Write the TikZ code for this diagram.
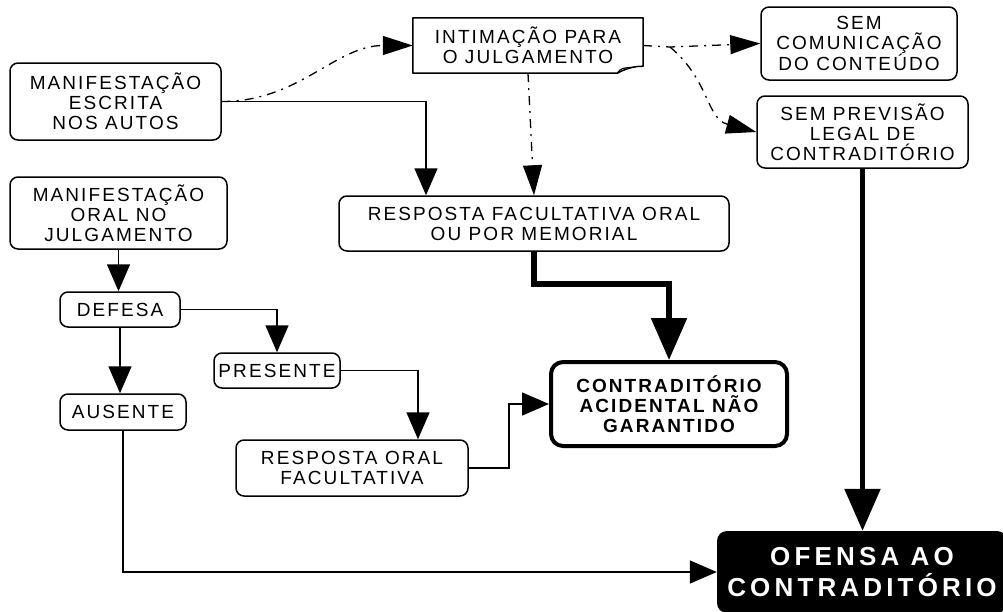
\documentclass[tikz,border=0pt]{standalone}
\usepackage{fontspec}
\setmainfont{Liberation Sans}[LetterSpace=11]
\usetikzlibrary{arrows.meta,calc}
\begin{document}
\begin{tikzpicture}[x=1pt,y=-1pt,
  txt/.style={align=center, inner sep=0pt, font=\fontsize{19}{20}\selectfont},
  box/.style={txt, draw, line width=1.5pt, rounded corners=8pt},
  arr/.style={line width=1.5pt, -{Triangle[length=27pt,width=23pt]}},
  thk/.style={line width=5.5pt, -{Triangle[length=42pt,width=35pt]}},
  dd/.style={line width=1.3pt, dash pattern=on 9pt off 6pt on 2pt off 6pt},
  ddarr/.style={dd, -{Triangle[length=30pt,width=19pt]}}]
\useasboundingbox (0,0) rectangle (1003,611);

\node[box, minimum width=211pt, minimum height=77pt] (me) at (115.5,101.5) {MANIFESTAÇÃO\\ESCRITA\\NOS AUTOS};
\node[box, minimum width=217pt, minimum height=72pt] (mo) at (118.5,213) {MANIFESTAÇÃO\\ORAL NO\\JULGAMENTO};
\node[txt, minimum width=230pt, minimum height=55pt] (intim) at (528,45.5) {INTIMAÇÃO PARA\\O JULGAMENTO};
\draw[line width=1.5pt, line join=round] (intim.north west) -- (intim.north east) -- ([yshift=7pt]intim.south east)
  .. controls ([xshift=-12pt,yshift=7pt]intim.south east) and ([xshift=-20pt,yshift=3pt]intim.south east) .. ([xshift=-26pt]intim.south east)
  -- (intim.south west) -- cycle;
\draw[line width=1.2pt] ([xshift=-26pt]intim.south east) .. controls ([xshift=-22pt,yshift=5pt]intim.south east) .. ([xshift=-9pt,yshift=6pt]intim.south east);
\node[box, minimum width=196pt, minimum height=73pt] (sc) at (859,43.5) {SEM\\COMUNICAÇÃO\\DO CONTEÚDO};
\node[box, minimum width=211pt, minimum height=72pt] (sp) at (862.5,132) {SEM PREVISÃO\\LEGAL DE\\CONTRADITÓRIO};
\node[box, minimum width=390pt, minimum height=55pt] (rf) at (534,223.5) {RESPOSTA FACULTATIVA ORAL\\OU POR MEMORIAL};
\node[box, minimum width=120pt, minimum height=35pt] (def) at (120,309.5) {DEFESA};
\node[box, minimum width=126pt, minimum height=35pt] (pre) at (277,370.5) {PRESENTE};
\node[box, minimum width=126pt, minimum height=36pt] (aus) at (123,412) {AUSENTE};
\node[box, minimum width=232pt, minimum height=56pt] (ro) at (352,468) {RESPOSTA ORAL\\FACULTATIVA};
\node[box, line width=4pt, rounded corners=12pt, minimum width=236pt, minimum height=84pt, font=\bfseries\fontsize{19}{20}\selectfont] (ca) at (669,404) {CONTRADITÓRIO\\ACIDENTAL NÃO\\GARANTIDO};
\node[txt, fill=black, rounded corners=10pt, text=white, minimum width=290pt, minimum height=82pt, font=\bfseries\fontsize{26}{31}\selectfont\addfontfeature{LetterSpace=16}] (of) at (862,572) {OFENSA AO\\CONTRADITÓRIO};

\coordinate (fork) at (670,47);

% solid thin connectors
\draw[arr] (me.east) -| ([xshift=-108pt]rf.north);
\draw[arr] (mo.south) -- (mo.south |- def.north);
\draw[arr] (def.south) -- (def.south |- aus.north);
\draw[arr] (def.east) -| (pre.north);
\draw[arr] (pre.east) -| ([xshift=66pt]ro.north);
\draw[arr] (ro.east) -- ++(40,0) |- (ca.west);
\draw[arr] (aus.south) |- (of.west);
% thick connectors
\draw[thk] (rf.south) -- ++(0,32) -| (ca.north);
\draw[thk] (sp.south) -- (sp.south |- of.north);
% dash-dot connectors
\draw[ddarr] (me.east) to[out=0,in=180] (intim.west);
\draw[ddarr] (intim.south) -- (rf.north);
\draw[ddarr] (intim.east) -- (fork) -- (sc.west);
\draw[ddarr] (fork) to[out=-40,in=165,looseness=1.1] (sp.west);
\end{tikzpicture}
\end{document}
